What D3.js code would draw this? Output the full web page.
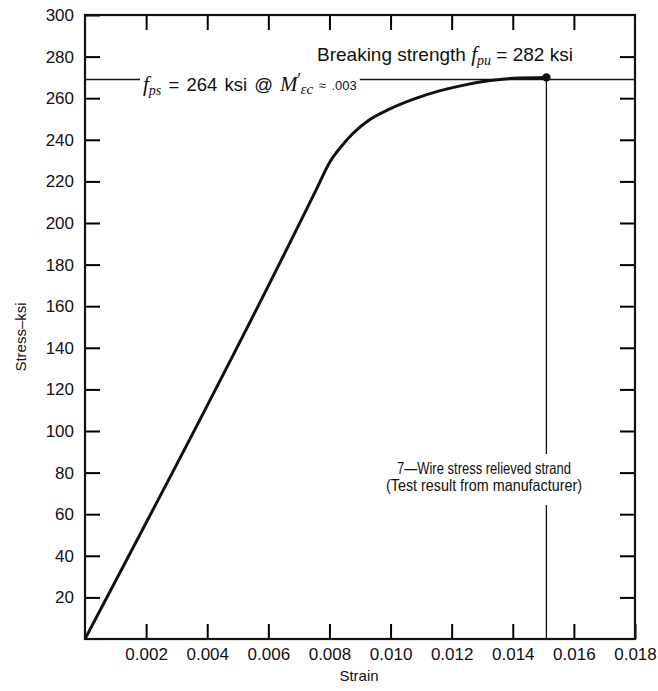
<!DOCTYPE html>
<html>
<head>
<meta charset="utf-8">
<script src="https://cdn.jsdelivr.net/npm/d3@7"></script>
<style>
  body { margin: 0; background: #fff; }
  svg { display: block; font-family: "Liberation Sans", Arial, sans-serif; }
  .tick text { font-size: 17px; fill: #111; }
</style>
</head>
<body>
<svg id="chart" width="658" height="691"></svg>
<script>
// stress-strain curve (strain in in/in, stress in ksi)
const strain = [0, 0.0076, 0.0080, 0.0084, 0.0088, 0.0093, 0.0100, 0.0108,
  0.0116, 0.0124, 0.0132, 0.0140, 0.0151];
const stress = [0, 217, 229, 237, 243.5, 249.5, 255, 259.8,
  263.5, 266.3, 268.4, 269.6, 270];

const xTicks = [0.002, 0.004, 0.006, 0.008, 0.010, 0.012, 0.014, 0.016, 0.018];
const yTicks = [20, 40, 60, 80, 100, 120, 140, 160, 180, 200, 220, 240, 260, 280, 300];

const fpsLevel = 269;       // horizontal line as drawn
const breakPoint = [0.0151, 270];

const svg = d3.select("#chart");
const x = d3.scaleLinear().domain([0, 0.018]).range([85, 635]);
const y = d3.scaleLinear().domain([0, 300]).range([639, 15]);

const inner = 15; // inward tick length

// left axis
svg.append("g")
  .attr("transform", `translate(${x(0)},0)`)
  .call(d3.axisLeft(y).tickValues(yTicks).tickSizeInner(-inner).tickSizeOuter(0).tickPadding(11))
  .call((g) => g.select(".domain").remove())
  .call((g) => g.selectAll(".tick line").attr("stroke-width", 2));

// bottom axis
svg.append("g")
  .attr("transform", `translate(0,${y(0)})`)
  .call(d3.axisBottom(x).tickValues(xTicks).tickFormat(d3.format(".3f"))
    .tickSizeInner(-inner).tickSizeOuter(0).tickPadding(9))
  .call((g) => g.select(".domain").remove())
  .call((g) => g.selectAll(".tick line").attr("stroke-width", 2));

// right + top inward ticks, no labels
svg.append("g")
  .attr("transform", `translate(${x(0.018)},0)`)
  .call(d3.axisRight(y).tickValues(yTicks.slice(0, -1)).tickSizeInner(-inner).tickSizeOuter(0).tickFormat(""))
  .call((g) => g.select(".domain").remove())
  .call((g) => g.selectAll(".tick line").attr("stroke-width", 2));

svg.append("g")
  .attr("transform", `translate(0,${y(300)})`)
  .call(d3.axisTop(x).tickValues(xTicks.slice(0, -1)).tickSizeInner(-inner).tickSizeOuter(0).tickFormat(""))
  .call((g) => g.select(".domain").remove())
  .call((g) => g.selectAll(".tick line").attr("stroke-width", 2));

// frame
svg.append("rect")
  .attr("x", x(0)).attr("y", y(300))
  .attr("width", x(0.018) - x(0)).attr("height", y(0) - y(300))
  .attr("fill", "none").attr("stroke", "#111").attr("stroke-width", 2.2);

// f_ps label, then the horizontal line broken around it
const ly = y(fpsLevel);
const fpsLabel = svg.append("text").attr("x", 143).attr("y", ly + 12).attr("font-size", 18.5)
  .attr("word-spacing", 2).attr("fill", "#111");
fpsLabel.append("tspan").attr("font-family", "Liberation Serif").attr("font-style", "italic").attr("font-size", 21).text("f");
fpsLabel.append("tspan").attr("font-family", "Liberation Serif").attr("font-style", "italic").attr("font-size", 14).attr("dy", 4).text("ps");
fpsLabel.append("tspan").attr("dy", -4).text(" = 264  ksi @ ");
fpsLabel.append("tspan").attr("font-family", "Liberation Serif").attr("font-style", "italic").attr("font-size", 21).text("M");
fpsLabel.append("tspan").attr("font-size", 16).attr("dy", -6).text("′");
fpsLabel.append("tspan").attr("font-family", "Liberation Serif").attr("font-style", "italic").attr("font-size", 15).attr("dy", 9).text("εc");
fpsLabel.append("tspan").attr("font-size", 13).attr("dy", -4).text("  ≈ .003");
const fb = fpsLabel.node().getBBox();

svg.append("line").attr("x1", x(0)).attr("x2", 140).attr("y1", ly).attr("y2", ly)
  .attr("stroke", "#111").attr("stroke-width", 1.6);
svg.append("line").attr("x1", fb.x + fb.width + 3).attr("x2", x(0.018)).attr("y1", ly).attr("y2", ly)
  .attr("stroke", "#111").attr("stroke-width", 1.6);

// breaking strength label
const bs = svg.append("text").attr("x", 317).attr("y", 61).attr("font-size", 19).attr("fill", "#111");
bs.append("tspan").text("Breaking strength ");
bs.append("tspan").attr("font-family", "Liberation Serif").attr("font-style", "italic").attr("font-size", 21).text("f");
bs.append("tspan").attr("font-family", "Liberation Serif").attr("font-style", "italic").attr("font-size", 14).attr("dy", 4).text("pu");
bs.append("tspan").attr("dy", -4).text(" = 282 ksi");

// curve
const pts = strain.map((s, i) => [s, stress[i]]);
svg.append("path")
  .datum(pts)
  .attr("fill", "none")
  .attr("stroke", "#111")
  .attr("stroke-width", 3)
  .attr("stroke-linejoin", "round")
  .attr("d", d3.line().x((d) => x(d[0])).y((d) => y(d[1])).curve(d3.curveMonotoneX));

// note text (condensed face in the original, so squeeze to its width)
const note = svg.append("g").attr("font-size", 16.5).attr("fill", "#111").attr("text-anchor", "middle");
note.append("text").attr("x", 484).attr("y", 474).attr("textLength", 174).attr("lengthAdjust", "spacingAndGlyphs")
  .text("7\u2014Wire stress relieved strand");
note.append("text").attr("x", 484).attr("y", 491).attr("textLength", 196).attr("lengthAdjust", "spacingAndGlyphs")
  .text("(Test result from manufacturer)");

// vertical drop from the break point, gap around the note
const bx = x(breakPoint[0]);
svg.append("line").attr("x1", bx).attr("x2", bx).attr("y1", y(breakPoint[1])).attr("y2", 454)
  .attr("stroke", "#111").attr("stroke-width", 1.3);
svg.append("line").attr("x1", bx).attr("x2", bx).attr("y1", 505).attr("y2", y(0))
  .attr("stroke", "#111").attr("stroke-width", 1.3);

svg.append("circle").attr("cx", bx).attr("cy", y(breakPoint[1])).attr("r", 4.2).attr("fill", "#111");

// axis titles
svg.append("text").attr("x", 359).attr("y", 681).attr("text-anchor", "middle")
  .attr("font-size", 15).attr("fill", "#111").text("Strain");
svg.append("text").attr("transform", "translate(26,337) rotate(-90)").attr("text-anchor", "middle")
  .attr("font-size", 15).attr("fill", "#111").text("Stress\u2013ksi");
</script>
</body>
</html>
